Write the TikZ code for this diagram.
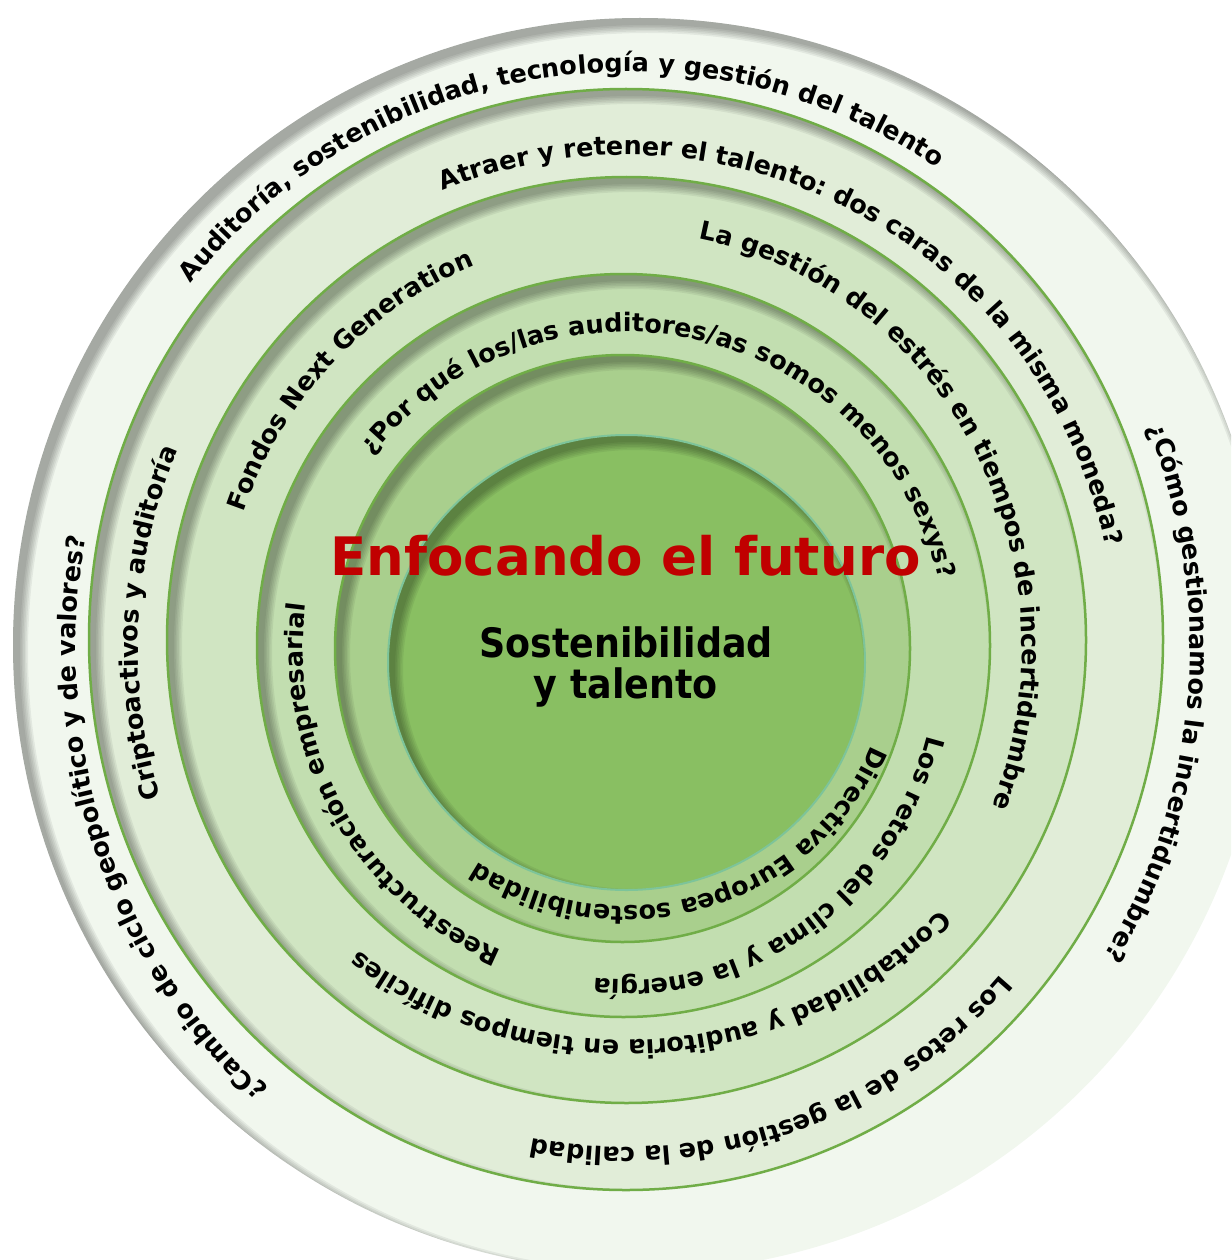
\documentclass[tikz,border=0pt]{standalone}
\usepackage{fontspec}
\setmainfont{DejaVu Sans}
\IfFontExistsTF{DejaVu Sans Condensed}{\newfontfamily\condfont{DejaVu Sans Condensed}}{\newfontfamily\condfont[FakeStretch=0.88]{DejaVu Sans}}
\usetikzlibrary{decorations.text}
\definecolor{ringA}{HTML}{F1F7EE}
\definecolor{ringB}{HTML}{E1EDD8}
\definecolor{ringC}{HTML}{D0E5C2}
\definecolor{ringD}{HTML}{C2DEB0}
\definecolor{ringE}{HTML}{A9CF8D}
\definecolor{core}{HTML}{89BF62}
\definecolor{ringline}{HTML}{70AD47}
\definecolor{coreline}{HTML}{7DC49A}
\definecolor{titlered}{HTML}{C00000}
\newcommand\lblfont{\fontsize{25.5}{30}\selectfont\bfseries}
\newcommand\innershadow[4]{%
  \begin{scope}
    \clip (#1,#2) ellipse [x radius=#3, y radius=#4];
    \foreach \k in {0,...,5}{
      \fill[black, opacity=0.06, even odd rule]
        (#1,#2) ellipse [x radius=#3+30, y radius=#4+30]
        ({#1+7},{#2-7}) ellipse [x radius={#3-1.6*\k}, y radius={#4-1.6*\k}];
    }
  \end{scope}}
\newcommand\disk[6]{% cx cy rx ry fill line
  \fill[#5] (#1,#2) ellipse [x radius=#3, y radius=#4];
  \innershadow{#1}{#2}{#3}{#4}
  \ifx\relax#6\relax\else
    \draw[#6, line width=2.5pt] (#1,#2) ellipse [x radius=#3, y radius=#4];
  \fi}
\newcommand\ringtext[4]{% rx ry theta text
  \pgfmathsetmacro\sa{#3+90}\pgfmathsetmacro\ea{#3-90}
  \path[shift={(626,-648)}, decorate,
        decoration={text along path, text align=center, text={|\lblfont|#4}}]
    (\sa:#1 and #2) arc [start angle=\sa, end angle=\ea, x radius=#1, y radius=#2];}
\begin{document}
\begin{tikzpicture}[x=1pt,y=1pt]
\useasboundingbox (0,0) rectangle (1231,-1260);
\clip (0,0) rectangle (1231,-1260);
\disk{640}{-645}{627}{627}{ringA}{}
\disk{626}{-639.5}{537}{550.5}{ringB}{ringline}
\disk{626.5}{-640}{459.5}{463}{ringC}{ringline}
\disk{623.5}{-645.5}{366.5}{371.5}{ringD}{ringline}
\disk{622.5}{-648.5}{287.5}{293.5}{ringE}{ringline}
\fill[core] (626.5,-662.5) ellipse [x radius=238.5, y radius=227.5];
\innershadow{626.5}{-662.5}{238.5}{227.5}
\draw[coreline, line width=2pt] (626.5,-662.5) ellipse [x radius=238.5, y radius=227.5];
% ring A
\ringtext{562}{576}{98.5}{Auditoría, sostenibilidad, tecnología y gestión del talento}
\ringtext{564}{580}{-5}{¿Cómo gestionamos la incertidumbre?}
\ringtext{550}{586}{200}{¿Cambio de ciclo geopolítico y de valores?}
% ring B
\ringtext{490}{493}{62}{Atraer y retener el talento: dos caras de la misma moneda?}
\ringtext{488}{496}{177}{Criptoactivos y auditoría}
\ringtext{494}{499}{-71}{Los retos de la gestión de la calidad}
% ring C
\ringtext{405}{412}{136}{Fondos Next Generation}
\ringtext{396}{416}{29}{La gestión del estrés en tiempos de incertidumbre}
\ringtext{422}{392}{-85.5}{Contabilidad y auditoria en tiempos difíciles}
% ring D
\ringtext{320}{316}{77.5}{¿Por qué los/las auditores/as somos menos sexys?}
\ringtext{323}{328}{210}{Reestructuración empresarial}
\ringtext{312}{332}{-56.5}{Los retos del clima y la energía}
% ring E
\ringtext{265}{258}{-73}{Directiva Europea sostenibilidad}
% centre
\node[anchor=base, text=titlered, font=\fontsize{53}{60}\selectfont\bfseries, inner sep=0pt] (title) at (625.5,-575) {Enfocando el futuro};
\node[anchor=base, font=\condfont\fontsize{40.5}{46}\selectfont\bfseries, inner sep=0pt] (sub1) at (626,-657) {Sostenibilidad};
\node[anchor=base, font=\condfont\fontsize{40.5}{46}\selectfont\bfseries, inner sep=0pt] (sub2) at (626,-698) {y talento};
\end{tikzpicture}
\end{document}
